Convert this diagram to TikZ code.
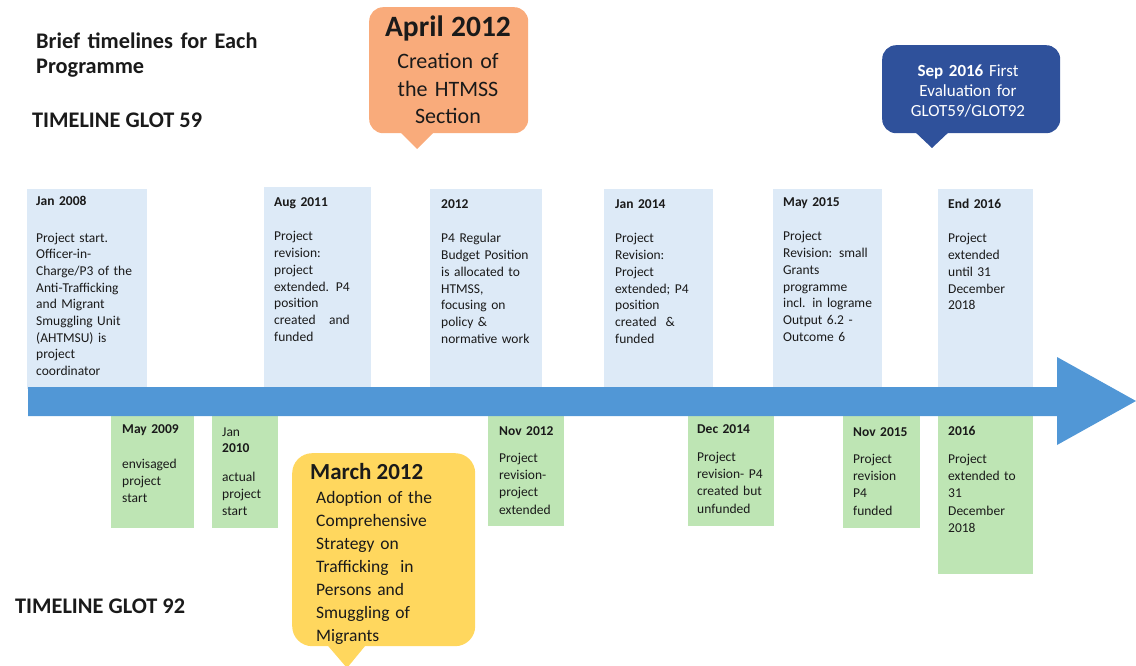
\documentclass[tikz,border=0pt]{standalone}
\usepackage{fontspec}
\setmainfont{Carlito}
\definecolor{boxblue}{HTML}{DDEAF7}
\definecolor{boxgreen}{HTML}{BEE5B4}
\definecolor{barblue}{HTML}{5197D6}
\definecolor{calloutorange}{HTML}{F9AB7B}
\definecolor{calloutyellow}{HTML}{FFD75E}
\definecolor{calloutnavy}{HTML}{2F519B}
\definecolor{textdark}{HTML}{1A1A1A}
\begin{document}
\begin{tikzpicture}[x=1pt,y=-1pt,
  topbox/.style={fill=boxblue, inner sep=0pt, anchor=north west},
  lowbox/.style={fill=boxgreen, inner sep=0pt, anchor=north west},
  boxtext/.style={anchor=base west, align=left, inner sep=0pt, text width=200pt,
    text=textdark, font=\fontsize{13.5}{16.7}\selectfont},
  lowtext/.style={boxtext, font=\fontsize{13.5}{17.4}\selectfont},
  heading/.style={anchor=base west, inner sep=0pt, text=textdark,
    font=\fontsize{22.3}{25}\selectfont\bfseries},
  calloutbox/.style={inner sep=0pt, anchor=north west, rounded corners=14pt}]
\useasboundingbox (0,0) rectangle (1136,666);

% headings
\node[heading, align=left, text width=300pt] (title) at (36,49) {Brief timelines for Each\\Programme};
\node[heading] (glot59) at (32,128) {TIMELINE GLOT 59};
\node[heading] (glot92) at (15,613) {TIMELINE GLOT 92};

% GLOT 59 milestones above the axis
\node[topbox, minimum width=120pt, minimum height=200pt] (b2008) at (27,189) {};
\node[topbox, minimum width=107pt, minimum height=202pt] (b2011) at (264,187) {};
\node[topbox, minimum width=112pt, minimum height=200pt] (b2012) at (430,189) {};
\node[topbox, minimum width=109pt, minimum height=200pt] (b2014) at (604,189) {};
\node[topbox, minimum width=109pt, minimum height=200pt] (b2015) at (773,189) {};
\node[topbox, minimum width=95pt, minimum height=200pt] (b2016) at (938,189) {};

\node[boxtext] (t2008) at (36,206) {\textbf{Jan 2008}\\[19.3pt]Project start.\\Officer-in-\\Charge/P3 of the\\Anti-Trafficking\\and Migrant\\Smuggling Unit\\(AHTMSU) is\\project\\coordinator};
\node[boxtext] (t2011) at (274,207) {\textbf{Aug 2011}\\[17.3pt]Project\\revision:\\project\\extended. P4\\position\\created~~ and\\funded};
\node[boxtext] (t2012) at (441,208) {\textbf{2012}\\[18.3pt]P4 Regular\\Budget Position\\is allocated to\\HTMSS,\\focusing on\\policy \&\\normative work};
\node[boxtext] (t2014) at (615,208) {\textbf{Jan 2014}\\[18.3pt]Project\\Revision:\\Project\\extended; P4\\position\\created~ \&\\funded};
\node[boxtext] (t2015) at (783,207) {\textbf{May 2015}\\[17.3pt]Project\\Revision: small\\Grants\\programme\\incl. in lograme\\Output 6.2 -\\Outcome 6};
\node[boxtext] (t2016) at (948,208) {\textbf{End 2016}\\[18.3pt]Project\\extended\\until 31\\December\\2018};

% GLOT 92 milestones below the axis
\node[lowbox, minimum width=83pt, minimum height=113pt] (g2009) at (111,415) {};
\node[lowbox, minimum width=66pt, minimum height=113pt] (g2010) at (212,415) {};
\node[lowbox, minimum width=76pt, minimum height=111pt] (g2012) at (488,415) {};
\node[lowbox, minimum width=86pt, minimum height=112pt] (g2014) at (688,414) {};
\node[lowbox, minimum width=77pt, minimum height=113pt] (g2015) at (843,415) {};
\node[lowbox, minimum width=95pt, minimum height=159pt] (g2016) at (938,415) {};

\node[lowtext] (s2009) at (122,433) {\textbf{May 2009}\\[17.6pt]envisaged\\project\\start};
\node[lowtext] (s2010) at (222,436) {Jan\\[-1.4pt]\textbf{2010}\\[11.6pt]actual\\project\\start};
\node[lowtext] (s2012) at (499,435) {\textbf{Nov 2012}\\[9.6pt]Project\\revision-\\project\\extended};
\node[lowtext] (s2014) at (697,433) {\textbf{Dec 2014}\\[10.6pt]Project\\revision- P4\\created but\\unfunded};
\node[lowtext] (s2015) at (853,436) {\textbf{Nov 2015}\\[9.6pt]Project\\revision\\P4\\funded};
\node[lowtext] (s2016) at (948,435) {\textbf{2016}\\[10.6pt]Project\\extended to\\31\\December\\2018};

% time axis
\fill[barblue] (28,387) -- (1057,387) -- (1057,357) -- (1136,401) -- (1057,445)
  -- (1057,416) -- (28,416) -- cycle;

% callouts
\node[calloutbox, fill=calloutorange, minimum width=159pt, minimum height=126pt] (april) at (369,7) {};
\fill[calloutorange] (398,130) -- (417,149) -- (436,130) -- cycle;
\node[anchor=base, align=center, inner sep=0pt, text width=150pt, text=textdark,
  font=\fontsize{22}{27.5}\selectfont] (aprilt) at (448,37)
  {{\fontsize{29.5}{27.5}\selectfont\bfseries April 2012}\\[4.5pt]Creation of\\the HTMSS\\Section};

\node[calloutbox, fill=calloutnavy, minimum width=178pt, minimum height=88pt] (sep) at (882,45) {};
\fill[calloutnavy] (913,130) -- (932,148) -- (951,130) -- cycle;
\node[anchor=base, align=center, inner sep=0pt, text width=170pt, text=white,
  font=\fontsize{17}{20}\selectfont] (sept) at (968,77)
  {\textbf{Sep 2016} First\\Evaluation for\\GLOT59/GLOT92};

\node[calloutbox, rounded corners=20pt, fill=calloutyellow, minimum width=183pt, minimum height=193pt] (march) at (292,453) {};
\fill[calloutyellow] (323,640) -- (347,668) -- (370,640) -- cycle;
\node[anchor=base west, inner sep=0pt, text=textdark,
  font=\fontsize{23}{23}\selectfont\bfseries] (marcht) at (310,479) {March 2012};
\node[anchor=base west, align=left, inner sep=0pt, text width=170pt, text=textdark,
  font=\fontsize{17.5}{23}\selectfont] (marchb) at (316,503)
  {Adoption of the\\Comprehensive\\Strategy on\\Trafficking~ in\\Persons and\\Smuggling of\\Migrants};
\end{tikzpicture}
\end{document}
